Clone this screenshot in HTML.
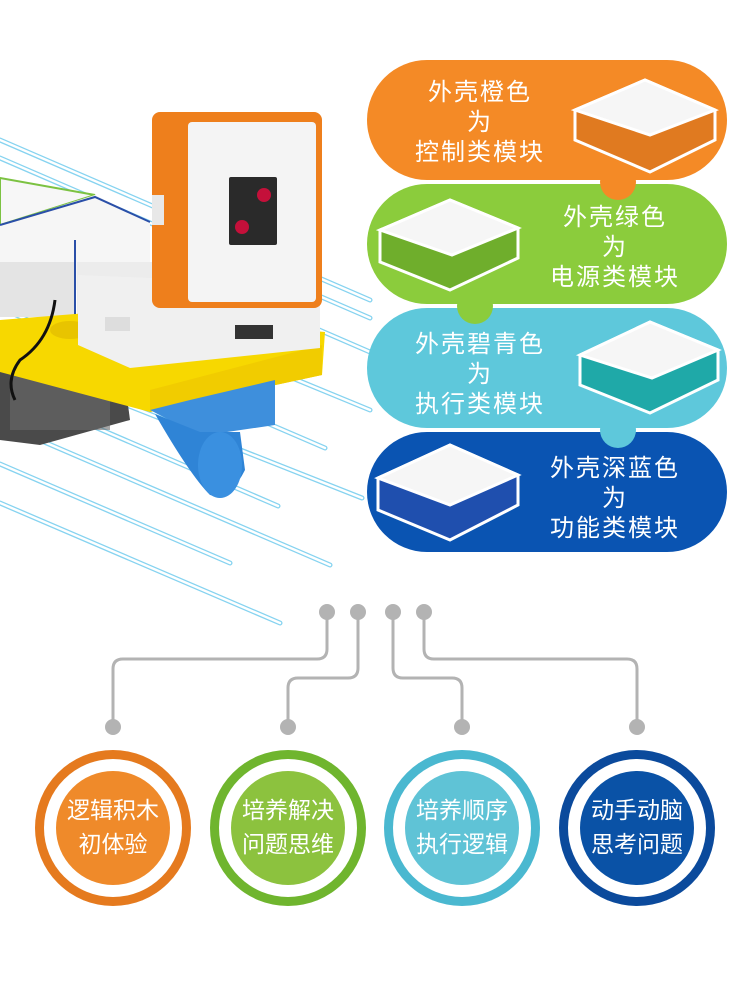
<!DOCTYPE html>
<html><head><meta charset="utf-8"><style>
html,body{margin:0;padding:0;background:#fff;}
body{width:750px;height:1000px;position:relative;overflow:hidden;font-family:"Liberation Sans","Noto Sans CJK SC",sans-serif;}
svg{position:absolute;left:0;top:0;}
.t{position:absolute;color:#fff;text-align:center;font-size:24px;line-height:30px;letter-spacing:2px;}
.c{position:absolute;color:#fff;text-align:center;font-size:23px;line-height:34px;}
</style></head><body>
<svg width="750" height="1000" viewBox="0 0 750 1000">
<!-- blue lines -->
<g stroke-linecap="round" fill="none">
<g stroke="#86d3f0" stroke-width="5">
<path d="M0,140 L370,300 M0,158 L370,318 M0,503 L280,623 M0,464 L230,563 M0,423 L330,565 M0,386 L278,506 M0,308 L325,448 M0,355 L362,498 M200,340 L370,410 M250,300 L370,352"/>
</g>
<g stroke="#fff" stroke-width="2.4">
<path d="M0,140 L370,300 M0,158 L370,318 M0,503 L280,623 M0,464 L230,563 M0,423 L330,565 M0,386 L278,506 M0,308 L325,448 M0,355 L362,498 M200,340 L370,410 M250,300 L370,352"/>
</g>
</g>
<!-- left modules -->
<polygon points="0,178 95,195 0,225" fill="#f7f7f7" stroke="#7cc242" stroke-width="2"/>
<polygon points="0,225 95,195 150,222 150,290 0,290" fill="#f6f6f6"/>
<polyline points="0,225 95,197 150,222" stroke="#2a4fa8" stroke-width="2" fill="none"/>
<line x1="75" y1="240" x2="75" y2="320" stroke="#2a4fa8" stroke-width="2"/>
<rect x="0" y="262" width="74" height="55" fill="#e4e4e4"/>
<rect x="77" y="262" width="80" height="60" fill="#ececec"/>
<!-- dark circuit -->
<polygon points="0,335 120,345 130,420 40,445 0,440" fill="#4a4a4a"/>
<rect x="10" y="360" width="100" height="70" fill="#6b6b6b" opacity="0.6"/>
<!-- yellow plate -->
<polygon points="0,320 100,312 325,332 322,375 150,412 0,372" fill="#f7d800"/>
<polygon points="150,390 322,345 322,375 150,412" fill="#f1cc00"/>
<ellipse cx="70" cy="330" rx="20" ry="9" fill="#e8c400"/>
<ellipse cx="105" cy="342" rx="20" ry="9" fill="#e8c400"/>
<ellipse cx="140" cy="355" rx="20" ry="9" fill="#e8c400"/>
<!-- blue wheel -->
<polygon points="150,410 190,400 275,380 275,425 200,436" fill="#3e8fdc"/>
<path d="M155,414 L200,432 L240,432 L245,470 Q230,500 210,495 Q190,475 155,414Z" fill="#2f84d6"/>
<ellipse cx="220" cy="465" rx="22" ry="33" fill="#3a90e0"/>
<!-- white base under orange module -->
<polygon points="78,275 320,285 320,348 130,368 78,345" fill="#f0f0f0"/>
<rect x="105" y="317" width="25" height="14" fill="#ddd"/>
<rect x="235" y="325" width="38" height="14" fill="#333"/>
<!-- black wire -->
<path d="M55,300 Q50,340 20,360 Q5,380 15,400" stroke="#111" stroke-width="3" fill="none"/>
<!-- orange module -->
<rect x="152" y="112" width="170" height="196" rx="8" fill="#ee7f1c"/>
<rect x="188" y="122" width="128" height="180" rx="4" fill="#f4f4f4"/>
<rect x="152" y="195" width="12" height="30" fill="#e8e8e8"/>
<rect x="229" y="177" width="48" height="68" rx="2" fill="#2a2a2a"/>
<circle cx="264" cy="195" r="7" fill="#c4103a"/>
<circle cx="242" cy="227" r="7" fill="#c4103a"/>
<!-- pills -->
<g>
<rect x="367" y="60" width="360" height="120" rx="60" fill="#f48a26"/>
<rect x="367" y="184" width="360" height="120" rx="60" fill="#8bcc3c"/>
<rect x="367" y="308" width="360" height="120" rx="60" fill="#5ec8db"/>
<rect x="367" y="432" width="360" height="120" rx="60" fill="#0a54b2"/>
<rect x="360" y="180" width="380" height="4" fill="#fff"/>
<rect x="360" y="304" width="380" height="4" fill="#fff"/>
<rect x="360" y="428" width="380" height="4" fill="#fff"/>
<circle cx="618" cy="182" r="18" fill="#f48a26"/>
<circle cx="475" cy="306" r="18" fill="#8bcc3c"/>
<circle cx="618" cy="430" r="18" fill="#5ec8db"/>
</g>
<!-- module boxes -->
<g stroke="#fff" stroke-width="3">
<polygon points="575,110 645,80 715,110 715,140 650,172 575,140" fill="#e07a20"/>
<polygon points="575,110 645,80 715,110 650,135" fill="#f6f6f6"/>
<polygon points="380,230 450,200 518,228 518,258 450,290 380,262" fill="#6fae2c"/>
<polygon points="380,230 450,200 518,228 452,255" fill="#f6f6f6"/>
<polygon points="580,355 650,322 718,350 718,380 650,413 580,385" fill="#1fa9a8"/>
<polygon points="580,355 650,322 718,350 652,378" fill="#f6f6f6"/>
<polygon points="378,478 450,445 518,475 518,505 450,540 378,510" fill="#1f4fae"/>
<polygon points="378,478 450,445 518,475 450,505" fill="#f6f6f6"/>
</g>
<!-- connectors -->
<g stroke="#b3b3b3" stroke-width="3" fill="none">
<path d="M327,612 V649 Q327,659 317,659 H123 Q113,659 113,669 V726"/>
<path d="M358,612 V668 Q358,678 348,678 H298 Q288,678 288,688 V726"/>
<path d="M393,612 V668 Q393,678 403,678 H452 Q462,678 462,688 V726"/>
<path d="M424,612 V649 Q424,659 434,659 H627 Q637,659 637,669 V726"/>
</g>
<g fill="#b3b3b3">
<circle cx="327" cy="612" r="8"/><circle cx="358" cy="612" r="8"/><circle cx="393" cy="612" r="8"/><circle cx="424" cy="612" r="8"/>
<circle cx="113" cy="727" r="8"/><circle cx="288" cy="727" r="8"/><circle cx="462" cy="727" r="8"/><circle cx="637" cy="727" r="8"/>
</g>
<!-- circles -->
<g>
<circle cx="113" cy="828" r="78" fill="#e57a1e"/><circle cx="113" cy="828" r="69" fill="#fff"/><circle cx="113" cy="828" r="57" fill="#ef8a2a"/>
<circle cx="288" cy="828" r="78" fill="#6fb52e"/><circle cx="288" cy="828" r="69" fill="#fff"/><circle cx="288" cy="828" r="57" fill="#8cc23e"/>
<circle cx="462" cy="828" r="78" fill="#4ab8d0"/><circle cx="462" cy="828" r="69" fill="#fff"/><circle cx="462" cy="828" r="57" fill="#5fc3d6"/>
<circle cx="637" cy="828" r="78" fill="#0b4a9c"/><circle cx="637" cy="828" r="69" fill="#fff"/><circle cx="637" cy="828" r="57" fill="#0a52a6"/>
</g>
</svg>
<div class="t" style="left:395px;top:78px;width:170px;">外壳橙色<br>为<br>控制类模块</div>
<div class="t" style="left:530px;top:203px;width:170px;">外壳绿色<br>为<br>电源类模块</div>
<div class="t" style="left:395px;top:330px;width:170px;">外壳碧青色<br>为<br>执行类模块</div>
<div class="t" style="left:530px;top:454px;width:170px;">外壳深蓝色<br>为<br>功能类模块</div>
<div class="c" style="left:53px;top:793px;width:120px;">逻辑积木<br>初体验</div>
<div class="c" style="left:228px;top:793px;width:120px;">培养解决<br>问题思维</div>
<div class="c" style="left:402px;top:793px;width:120px;">培养顺序<br>执行逻辑</div>
<div class="c" style="left:577px;top:793px;width:120px;">动手动脑<br>思考问题</div>
</body></html>
